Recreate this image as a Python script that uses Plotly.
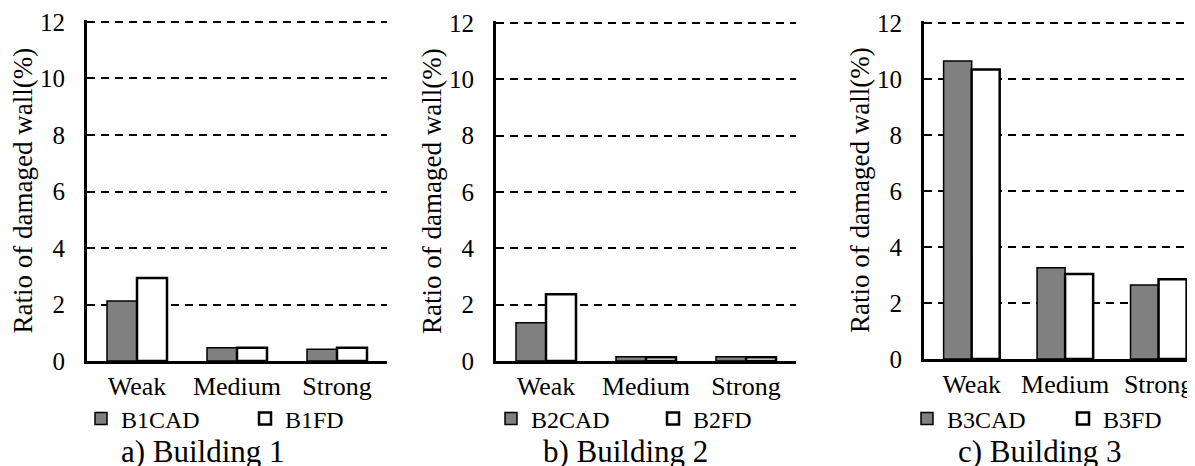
import plotly.graph_objects as go

categories = ["Weak", "Medium", "Strong"]
b1_cad = [2.12, 0.47, 0.42]
b1_fd = [2.94, 0.47, 0.47]
b2_cad = [1.36, 0.15, 0.15]
b2_fd = [2.37, 0.13, 0.13]
b3_cad = [10.64, 3.26, 2.64]
b3_fd = [10.34, 3.04, 2.85]
series_names = [("B1CAD", "B1FD"), ("B2CAD", "B2FD"), ("B3CAD", "B3FD")]
captions = ["a) Building 1", "b) Building 2", "c) Building 3"]
y_ticks = [0, 2, 4, 6, 8, 10, 12]

# page body has an 8px margin; work in screen pixels and subtract it
OFF = 8
SW, SH = 1195, 466
W, H = SW - OFF, SH - OFF
FONT = "Liberation Serif"

# screen-pixel geometry
panels = [
    dict(x0=87, x1=387, rng=[-0.5, 2.5], y0=361, y12=22, leg_x=81, ew=119, cap_x=203),
    dict(x0=496, x1=796, rng=[-0.5, 2.5], y0=361, y12=23, leg_x=491, ew=117, cap_x=626),
    dict(x0=924, x1=1195, rng=[-0.51, 2.39], y0=359, y12=23, leg_x=907, ew=111, cap_x=1040),
]
Y_TOP = 12.06
LEG_Y = 419
CAP_Y = 451


def fx(px):
    return (px - OFF) / W


def fy(py):
    return (H - (py - OFF)) / H


data = [(b1_cad, b1_fd), (b2_cad, b2_fd), (b3_cad, b3_fd)]

fig = go.Figure()
for i, (p, (cad, fd), (n1, n2)) in enumerate(zip(panels, data, series_names)):
    ax = "" if i == 0 else str(i + 1)
    leg = "legend" if i == 0 else f"legend{i + 1}"
    fig.add_trace(go.Bar(x=categories, y=cad, name=n1,
                         marker=dict(color="#808080", line=dict(color="black", width=1.5)),
                         xaxis="x" + ax, yaxis="y" + ax, legend=leg))
    fig.add_trace(go.Bar(x=categories, y=fd, name=n2,
                         marker=dict(color="white", line=dict(color="black", width=2.5)),
                         xaxis="x" + ax, yaxis="y" + ax, legend=leg))

layout = dict(
    width=W, height=H,
    margin=dict(l=0, r=0, t=0, b=0, autoexpand=False),
    paper_bgcolor="white", plot_bgcolor="white",
    barmode="group", bargap=0.4, bargroupgap=0.0,
    font=dict(family=FONT, color="black", size=24),
    showlegend=True,
)
for i, p in enumerate(panels):
    ax = "" if i == 0 else str(i + 1)
    ppu = (p["y0"] - p["y12"]) / 12.0
    ytop_px = p["y0"] - Y_TOP * ppu
    layout["xaxis" + ax] = dict(
        domain=[fx(p["x0"]), min(1.0, fx(p["x1"]))], anchor="y" + ax,
        range=p["rng"], type="category",
        showline=True, linecolor="black", linewidth=3,
        showgrid=False, ticks="",
        tickfont=dict(family=FONT, size=26, color="black"),
        fixedrange=True,
    )
    layout["yaxis" + ax] = dict(
        domain=[fy(p["y0"]), fy(ytop_px)], anchor="x" + ax, range=[0, Y_TOP],
        tickvals=y_ticks,
        showline=True, linecolor="black", linewidth=3,
        showgrid=True, gridcolor="black", gridwidth=2, griddash="8px,6px",
        zeroline=False,
        ticks="outside", ticklen=14, tickcolor="rgba(0,0,0,0)",
        tickfont=dict(family=FONT, size=25, color="black"),
        title=dict(text="Ratio of damaged wall(%)", font=dict(family=FONT, size=27, color="black"), standoff=0),
        fixedrange=True,
    )
    lname = "legend" if i == 0 else f"legend{i + 1}"
    layout[lname] = dict(
        orientation="h", x=fx(p["leg_x"]), xanchor="left",
        y=fy(LEG_Y), yanchor="middle",
        font=dict(family=FONT, size=24, color="black"),
        entrywidth=p["ew"], entrywidthmode="pixels",
        bgcolor="rgba(0,0,0,0)", borderwidth=0, tracegroupgap=0,
        itemclick=False, itemdoubleclick=False,
    )

annotations = []
for p, cap in zip(panels, captions):
    annotations.append(dict(text=cap, x=fx(p["cap_x"]), y=fy(CAP_Y),
                            xref="paper", yref="paper", xanchor="center", yanchor="middle",
                            showarrow=False, font=dict(family=FONT, size=31, color="black")))
layout["annotations"] = annotations

fig.update_layout(**layout)
fig.write_html("out.html")
